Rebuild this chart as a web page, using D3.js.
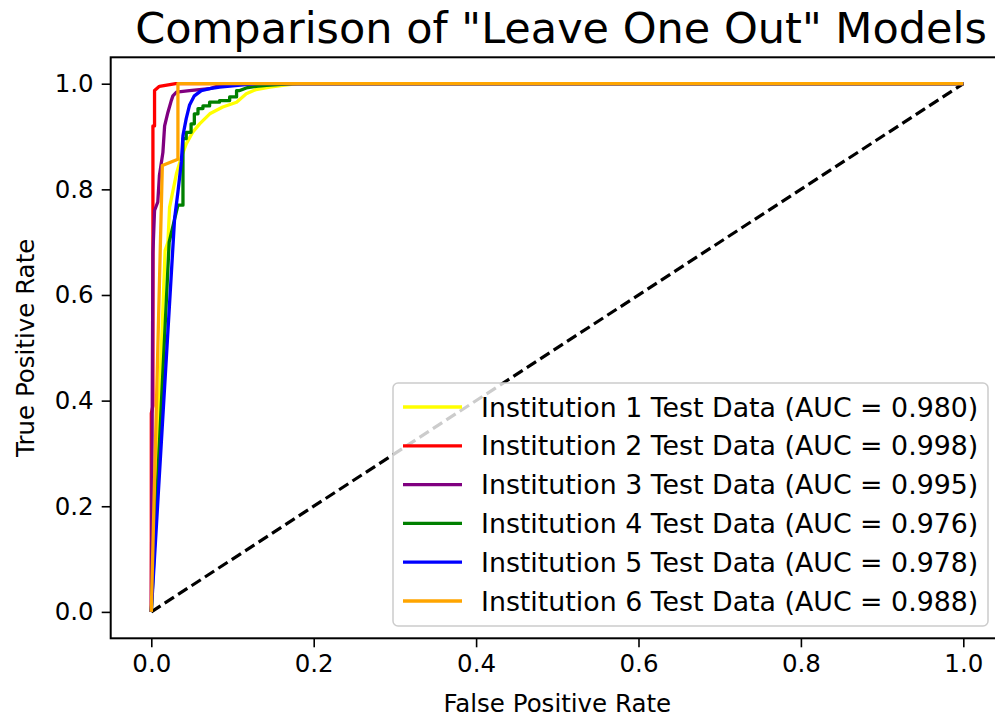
<!DOCTYPE html>
<html>
<head>
<meta charset="utf-8">
<script src="https://cdn.jsdelivr.net/npm/d3@7"></script>
<style>
  body { margin: 0; background: #fff; }
  svg { display: block; font-family: "DejaVu Sans", sans-serif; }
</style>
</head>
<body>
<svg id="chart" width="995" height="719"></svg>
<script>
// ROC points, [false positive rate, true positive rate]
const inst1 = [[0, 0], [0.017, 0.684], [0.0205, 0.70], [0.0225, 0.766], [0.031, 0.83], [0.037, 0.861],
  [0.043, 0.886], [0.051, 0.908], [0.0595, 0.924], [0.072, 0.943], [0.088, 0.956], [0.105, 0.965],
  [0.117, 0.981], [0.129, 0.989], [0.146, 0.9935], [0.162, 0.997], [0.18, 1], [1, 1]];
const inst2 = [[0, 0], [0, 0.376], [0.002, 0.39], [0.002, 0.92], [0.004, 0.92], [0.004, 0.987],
  [0.01, 0.995], [0.03, 1], [1, 1]];
const inst3 = [[0, 0], [0.002, 0.68], [0.004, 0.76], [0.008, 0.776], [0.010, 0.826], [0.0143, 0.87],
  [0.0164, 0.92], [0.0205, 0.946], [0.0246, 0.968], [0.0266, 0.977], [0.031, 0.984], [0.047, 0.987],
  [0.0715, 0.9905], [0.084, 0.9967], [0.112, 1], [1, 1]];
const inst4 = [[0, 0], [0.022, 0.70], [0.0328, 0.77], [0.039, 0.77], [0.039, 0.896], [0.043, 0.896],
  [0.043, 0.908], [0.049, 0.908], [0.049, 0.924], [0.053, 0.924], [0.053, 0.943], [0.0575, 0.943],
  [0.0575, 0.953], [0.0636, 0.953], [0.0636, 0.958], [0.0718, 0.958], [0.0718, 0.965], [0.084, 0.965],
  [0.084, 0.968], [0.0965, 0.968], [0.0965, 0.975], [0.105, 0.975], [0.105, 0.987], [0.109, 0.987],
  [0.117, 0.992], [0.129, 0.995], [0.142, 0.9967], [0.174, 1], [1, 1]];
const inst5 = [[0, 0], [0.0287, 0.745], [0.0328, 0.795], [0.037, 0.852], [0.039, 0.902], [0.043, 0.934],
  [0.047, 0.959], [0.053, 0.977], [0.0616, 0.987], [0.072, 0.9905], [0.084, 0.9935], [0.113, 0.998],
  [0.13, 1], [1, 1]];
const inst6 = [[0, 0], [0.0136, 0.845], [0.0328, 0.857], [0.0328, 1], [1, 1]];

const series = [inst1, inst2, inst3, inst4, inst5, inst6];
const names = ['Institution 1', 'Institution 2', 'Institution 3', 'Institution 4', 'Institution 5', 'Institution 6'];
const aucs = ['0.980', '0.998', '0.995', '0.976', '0.978', '0.988'];
const colors = ['yellow', 'red', 'purple', 'green', 'blue', 'orange'];
const ticks = [0, 0.2, 0.4, 0.6, 0.8, 1.0];
const chance = [[0, 0], [1, 1]];

const svg = d3.select('#chart');
const fontSize = 24.5;
const legendFontSize = 26.8;

// axes box; right edge runs off the page like in the source image
const box = { left: 110.7, right: 1003.9, top: 57.3, bottom: 638.3 };

const x = d3.scaleLinear().domain([-0.05, 1.05]).range([box.left, box.right]);
const y = d3.scaleLinear().domain([-0.05, 1.05]).range([box.bottom, box.top]);

svg.append('defs').append('clipPath')
  .attr('id', 'plotClip')
  .append('rect')
  .attr('x', box.left)
  .attr('y', box.top)
  .attr('width', box.right - box.left)
  .attr('height', box.bottom - box.top);

const line = d3.line()
  .x(d => x(d[0]))
  .y(d => y(d[1]));

const plot = svg.append('g').attr('clip-path', 'url(#plotClip)');

plot.append('path')
  .datum(chance)
  .attr('d', line)
  .attr('fill', 'none')
  .attr('stroke', 'black')
  .attr('stroke-width', 3.2)
  .attr('stroke-dasharray', '11,5');

plot.selectAll('path.roc')
  .data(series)
  .join('path')
  .attr('class', 'roc')
  .attr('d', line)
  .attr('fill', 'none')
  .attr('stroke', (d, i) => colors[i])
  .attr('stroke-width', 3.3)
  .attr('stroke-linejoin', 'round');

// axes
const xAxis = svg.append('g')
  .attr('transform', `translate(0,${box.bottom})`)
  .call(d3.axisBottom(x).tickValues(ticks).tickFormat(d3.format('.1f')).tickSize(9).tickPadding(6));
const yAxis = svg.append('g')
  .attr('transform', `translate(${box.left},0)`)
  .call(d3.axisLeft(y).tickValues(ticks).tickFormat(d3.format('.1f')).tickSize(9).tickPadding(8));

for (const ax of [xAxis, yAxis]) {
  ax.select('.domain').remove();
  ax.selectAll('.tick line').attr('stroke', 'black').attr('stroke-width', 1.6);
  ax.selectAll('.tick text')
    .attr('fill', 'black')
    .style('font-size', fontSize + 'px')
    .style('font-family', '"DejaVu Sans", sans-serif');
}
xAxis.selectAll('.tick text').attr('dy', '0.75em');

svg.append('rect')
  .attr('x', box.left)
  .attr('y', box.top)
  .attr('width', box.right - box.left)
  .attr('height', box.bottom - box.top)
  .attr('fill', 'none')
  .attr('stroke', 'black')
  .attr('stroke-width', 2);

// legend
const legend = svg.append('g');
const lg = { left: 393, top: 383, width: 595, height: 243, rowStart: 407, rowStep: 38.8 };
legend.append('rect')
  .attr('x', lg.left)
  .attr('y', lg.top)
  .attr('width', lg.width)
  .attr('height', lg.height)
  .attr('rx', 5)
  .attr('fill', 'rgba(255,255,255,0.8)')
  .attr('stroke', '#cccccc')
  .attr('stroke-width', 1.5);

const rows = legend.selectAll('g.row')
  .data(names)
  .join('g')
  .attr('class', 'row')
  .attr('transform', (d, i) => `translate(0,${lg.rowStart + i * lg.rowStep})`);

rows.append('line')
  .attr('x1', 403)
  .attr('x2', 462)
  .attr('stroke', (d, i) => colors[i])
  .attr('stroke-width', 3.3);

rows.append('text')
  .attr('x', 481)
  .attr('dy', '0.36em')
  .style('font-size', legendFontSize + 'px')
  .text((d, i) => `${d} Test Data (AUC = ${aucs[i]})`);

// labels
svg.append('text')
  .attr('x', 561)
  .attr('y', 42.5)
  .attr('text-anchor', 'middle')
  .style('font-size', '43px')
  .text('Comparison of "Leave One Out" Models');

svg.append('text')
  .attr('x', (box.left + box.right) / 2)
  .attr('y', 712)
  .attr('text-anchor', 'middle')
  .style('font-size', fontSize + 'px')
  .text('False Positive Rate');

svg.append('text')
  .attr('transform', `translate(34,${(box.top + box.bottom) / 2}) rotate(-90)`)
  .attr('text-anchor', 'middle')
  .style('font-size', fontSize + 'px')
  .text('True Positive Rate');
</script>
</body>
</html>
